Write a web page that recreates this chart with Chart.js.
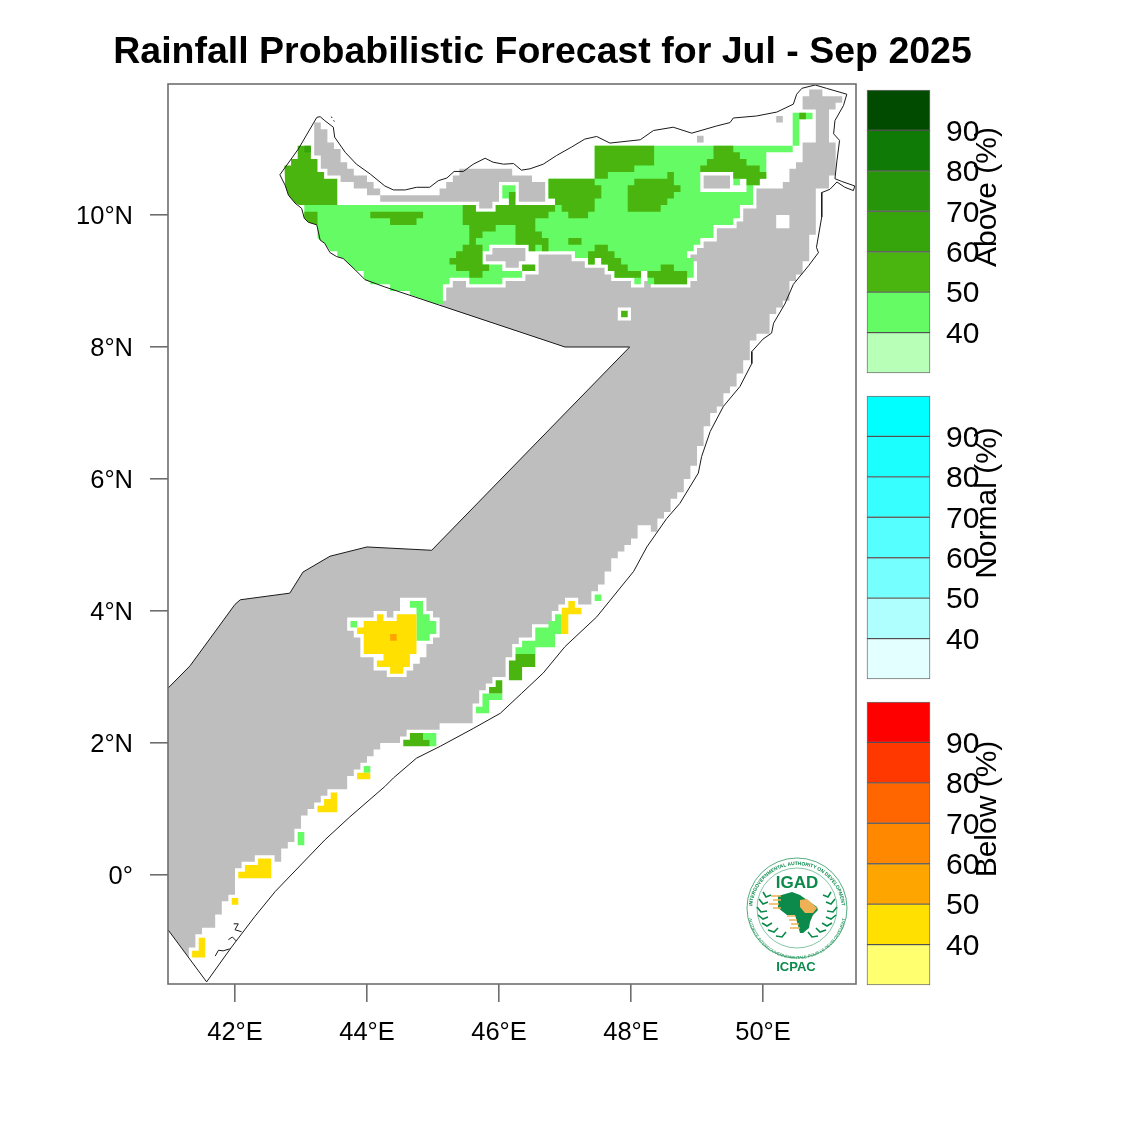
<!DOCTYPE html>
<html>
<head>
<meta charset="utf-8">
<title>Rainfall Probabilistic Forecast for Jul - Sep 2025</title>
<script src="https://cdn.jsdelivr.net/npm/chart.js@4"></script>
<style>
  html, body { margin: 0; background: #fff; }
  #page { position: relative; width: 1125px; height: 1125px; overflow: hidden; }
  canvas, svg { position: absolute; }
</style>
</head>
<body>
<div id="page">
  <canvas id="map" width="1085" height="1125" style="left:0;top:0"></canvas>
  <canvas id="above" width="265" height="303" style="left:860px;top:80px"></canvas>
  <canvas id="normal" width="265" height="303" style="left:860px;top:386px"></canvas>
  <canvas id="below" width="265" height="303" style="left:860px;top:692px"></canvas>
  <svg width="125" height="130" viewBox="0 0 125 130" style="left:735px;top:850px" font-family="Liberation Sans" fill="#0b8a4b">
    <defs>
      <path id="ringTop" d="M 17 60 A 45 45 0 0 1 107 60"/>
      <path id="ringBottom" d="M 13 60 A 49 49 0 0 0 111 60"/>
    </defs>
    <circle cx="62" cy="58" r="50" fill="none" stroke="#0b8a4b" stroke-width="0.7"/>
    <circle cx="62" cy="58" r="40" fill="none" stroke="#0b8a4b" stroke-width="0.5"/>
    <text font-size="4.9" font-weight="bold"><textPath href="#ringTop" startOffset="50%" text-anchor="middle">INTERGOVERNMENTAL AUTHORITY ON DEVELOPMENT</textPath></text>
    <text font-size="4.2"><textPath href="#ringBottom" startOffset="50%" text-anchor="middle">AUTORITE INTERGOUVERNEMENTALE POUR LE DEVELOPPEMENT</textPath></text>
    <text x="62" y="38" font-size="17" font-weight="bold" text-anchor="middle">IGAD</text>
    <text x="61" y="121" font-size="13" font-weight="bold" text-anchor="middle">ICPAC</text>
    <path d="M43 46 L57 42 L65 45 L72 50 L82 57 L83 60 L78 65 L75 72 L74 78 L68 83 L65 83 L62 72 L60 65 L52 65 L43 58 Z"/>
    <path d="M65 50 L72 49 L82 58 L78 63 L70 63 L65 57 Z" fill="#eeb155"/>
    <path d="M36 46H46M38 50H46M34 54H44M38 58H46M52 66H60M54 70H62M56 74H64M55 78H65" stroke="#eeb155" stroke-width="1.5" fill="none"/>
    <path d="M28 42l3 5l5-2M24 49l4 5l5-2M22 57l4 5l6-1M23 65l5 4l5-2M27 73l5 3l5-3M33 80l6 2l4-4M41 86l6 1l4-5
             M96 42l-3 5l-5-2M100 49l-4 5l-5-2M102 57l-4 5l-6-1M101 65l-5 4l-5-2M97 73l-5 3l-5-3M91 80l-6 2l-4-4M83 86l-6 1l-4-5"
          stroke="#0b8a4b" stroke-width="1.6" fill="none"/>
  </svg>
</div>
<script>
// tick positions and labels of the map
const lonTicks = [42, 44, 46, 48, 50];
const lonLabels = ["42°E", "44°E", "46°E", "48°E", "50°E"];
const latTicks = [0, 2, 4, 6, 8, 10];
const latLabels = ["0°", "2°N", "4°N", "6°N", "8°N", "10°N"];

// colour bars
const legendLevels = [30, 40, 50, 60, 70, 80, 90, 100];
const aboveColours = ["#b8ffb8", "#64fb64", "#4ab50e", "#36a50c", "#26950a", "#0f7a06", "#004b00"];
const normalColours = ["#e3ffff", "#b0ffff", "#75ffff", "#55ffff", "#38ffff", "#1cffff", "#00ffff"];
const belowColours = ["#ffff70", "#ffe000", "#ffa500", "#ff8800", "#ff6600", "#ff3800", "#ff0000"];

// grey "no forecast signal" area, lon/lat
const greyBody = [[40.985,2.83],[40.985,-0.83],[41.3,-1.25],[41.3,-1.1],[41.4,-1.1],[41.4,-0.9],[41.5,-0.9],[41.5,-0.8],[41.7,-0.8],[41.7,-0.6],[41.8,-0.6],[41.8,-0.4],[41.9,-0.4],[41.9,-0.3],[42,-0.3],[42,0.1],[42.1,0.1],[42.1,0.2],[42.3,0.2],[42.3,0.3],[42.6,0.3],[42.6,0.2],[42.7,0.2],[42.7,0.4],[42.8,0.4],[42.8,0.5],[42.9,0.5],[42.9,0.7],[43,0.7],[43,0.9],[43.1,0.9],[43.1,1],[43.2,1],[43.2,1.1],[43.3,1.1],[43.3,1.2],[43.4,1.2],[43.4,1.3],[43.7,1.3],[43.7,1.5],[43.8,1.5],[43.8,1.6],[43.9,1.6],[43.9,1.7],[44,1.7],[44,1.8],[44.1,1.8],[44.1,1.9],[44.2,1.9],[44.2,2],[44.5,2],[44.5,2.1],[44.6,2.1],[44.6,2.2],[45.1,2.2],[45.1,2.3],[45.6,2.3],[45.6,2.6],[45.7,2.6],[45.7,2.8],[45.8,2.8],[45.8,2.9],[45.9,2.9],[45.9,3],[46.1,3],[46.1,3.3],[46.2,3.3],[46.2,3.5],[46.3,3.5],[46.3,3.6],[46.5,3.6],[46.5,3.8],[46.8,3.8],[46.8,4],[46.9,4],[46.9,4.1],[47,4.1],[47,4.2],[47.2,4.2],[47.2,4.1],[47.4,4.1],[47.4,4.3],[47.5,4.3],[47.5,4.4],[47.6,4.4],[47.6,4.6],[47.7,4.6],[47.7,4.8],[47.8,4.8],[47.8,4.9],[47.9,4.9],[47.9,5],[48,5],[48,5.1],[48.1,5.1],[48.1,5.3],[48.3,5.3],[48.3,5.2],[48.4,5.2],[48.4,5.4],[48.5,5.4],[48.5,5.5],[48.6,5.5],[48.6,5.7],[48.7,5.7],[48.7,5.8],[48.8,5.8],[48.8,6],[48.9,6],[48.9,6.2],[49,6.2],[49,6.5],[49.1,6.5],[49.1,6.8],[49.2,6.8],[49.2,7],[49.3,7],[49.3,7.1],[49.4,7.1],[49.4,7.3],[49.5,7.3],[49.5,7.4],[49.6,7.4],[49.6,7.6],[49.7,7.6],[49.7,7.8],[49.8,7.8],[49.8,8.1],[49.9,8.1],[49.9,8.2],[50.1,8.2],[50.1,8.5],[50.2,8.5],[50.2,8.6],[50.3,8.6],[50.3,8.7],[50.4,8.7],[50.4,9],[50.5,9],[50.5,9.1],[50.6,9.1],[50.6,9.3],[50.7,9.3],[50.7,9.7],[50.8,9.7],[50.8,10.4],[51,10.4],[51,10.6],[51.1,10.6],[51.1,11.1],[51,11.1],[51,11.6],[51.1,11.6],[51.1,11.7],[51.2,11.7],[51.2,11.8],[50.9,11.8],[50.9,11.9],[50.7,11.9],[50.7,11.8],[50.6,11.8],[50.6,11.6],[50.8,11.6],[50.8,11.1],[50.6,11.1],[50.6,10.8],[50.5,10.8],[50.5,10.7],[50.4,10.7],[50.4,10.5],[50.3,10.5],[50.3,10.4],[49.9,10.4],[49.9,10.1],[49.7,10.1],[49.7,9.9],[49.6,9.9],[49.6,9.8],[49.3,9.8],[49.3,9.6],[49.1,9.6],[49.1,9.5],[49,9.5],[49,9.4],[48.9,9.4],[48.9,9.3],[49,9.3],[49,9],[48.9,9],[48.9,8.9],[48.3,8.9],[48.3,9],[48.2,9],[48.2,8.9],[48,8.9],[48,9],[47.7,9],[47.7,9.1],[47.6,9.1],[47.6,9.2],[47.3,9.2],[47.3,9.3],[47.1,9.3],[47.1,9.4],[46.6,9.4],[46.6,9.1],[46.4,9.1],[46.4,9],[46.1,9],[46.1,8.9],[45.5,8.9],[45.5,9],[45.3,9],[45.3,8.9],[45.2,8.9],[45.2,8.7],[45.1,8.7],[45.1,8.63],[47,8],[47.98,8],[44.98,4.92],[44,4.97],[43.44,4.83],[43.03,4.59],[42.83,4.27],[42.08,4.17],[42,4.1],[41.32,3.17]];
const greyStrip = [[43.2,11.4],[43.3,11.4],[43.3,11.3],[43.4,11.3],[43.4,11.1],[43.5,11.1],[43.5,11],[43.6,11],[43.6,10.8],[43.7,10.8],[43.7,10.7],[43.8,10.7],[43.8,10.6],[44,10.6],[44,10.5],[44.1,10.5],[44.1,10.4],[44.2,10.4],[44.2,10.3],[45.1,10.3],[45.1,10.4],[45.2,10.4],[45.2,10.5],[45.3,10.5],[45.3,10.6],[45.4,10.6],[45.4,10.7],[46.2,10.7],[46.2,10.6],[46.5,10.6],[46.5,10.5],[46.7,10.5],[46.7,10.2],[46.3,10.2],[46.3,10.5],[46,10.5],[46,10.2],[45.9,10.2],[45.9,10.1],[45.7,10.1],[45.7,10.2],[44.2,10.2],[44.2,10.3],[44,10.3],[44,10.4],[43.8,10.4],[43.8,10.5],[43.6,10.5],[43.6,10.6],[43.4,10.6],[43.4,10.7],[43.3,10.7],[43.3,10.9],[43.2,10.9]];
const greySpotA = [[50.2,11.5],[50.3,11.5],[50.3,11.4],[50.2,11.4]];
const greySpotB = [[49,11.2],[49.1,11.2],[49.1,11.1],[49,11.1]];
const greyIslandA = [[45.9,9.5],[46.4,9.5],[46.4,9.3],[46.3,9.3],[46.3,9.2],[46.1,9.2],[46.1,9.3],[45.8,9.3],[45.8,9.4],[45.9,9.4]];
const greyIslandB = [[49.1,10.6],[49.5,10.6],[49.5,10.4],[49.1,10.4]];

// white holes in the grey area
const whiteEast = [[50.2,10],[50.4,10],[50.4,9.8],[50.2,9.8]];
const whiteSpot = [[47.8,8.6],[48,8.6],[48,8.4],[47.8,8.4]];
const whiteCentre = [[43.7,3.9],[44.1,3.9],[44.1,4],[44.3,4],[44.3,3.9],[44.4,3.9],[44.4,4],[44.5,4],[44.5,4.2],[44.9,4.2],[44.9,4],[45,4],[45,3.9],[45.1,3.9],[45.1,3.6],[45,3.6],[45,3.5],[44.9,3.5],[44.9,3.3],[44.8,3.3],[44.8,3.2],[44.7,3.2],[44.7,3.1],[44.6,3.1],[44.6,3],[44.3,3],[44.3,3.1],[44.1,3.1],[44.1,3.3],[43.9,3.3],[43.9,3.6],[43.8,3.6],[43.8,3.7],[43.7,3.7]];
const whiteFrame = [[49.05,10.65],[49.55,10.65],[49.55,10.55],[49.75,10.55],[49.75,10.35],[49.05,10.35]];

// above normal, 40-50 %
const lightNorth = [[43.05,10.15],[43.05,9.95],[43.11,9.89],[43.25,9.85],[43.25,9.65],[43.29,9.62],[43.36,9.57],[43.45,9.45],[43.55,9.45],[43.55,9.37],[43.64,9.34],[43.82,9.17],[43.85,9.15],[43.95,9.15],[43.95,9.05],[43.97,9.02],[44.05,8.98],[44.05,8.95],[44.35,8.95],[44.35,8.85],[44.65,8.85],[44.65,8.79],[45.05,8.65],[45.15,8.65],[45.15,8.95],[45.25,8.95],[45.25,9.05],[45.55,9.05],[45.55,8.95],[46.05,8.95],[46.05,9.05],[46.35,9.05],[46.35,9.15],[46.05,9.15],[46.05,9.25],[45.75,9.25],[45.75,9.45],[45.85,9.45],[45.85,9.55],[46.45,9.55],[46.45,9.45],[47.15,9.45],[47.15,9.35],[47.35,9.35],[47.35,9.25],[47.45,9.25],[47.45,9.35],[47.55,9.35],[47.55,9.25],[47.65,9.25],[47.65,9.15],[47.75,9.15],[47.75,9.05],[48.05,9.05],[48.05,8.95],[48.15,8.95],[48.15,9.15],[48.25,9.15],[48.25,8.95],[48.85,8.95],[48.85,9.05],[48.95,9.05],[48.95,9.35],[48.85,9.35],[48.85,9.45],[48.95,9.45],[48.95,9.55],[49.05,9.55],[49.05,9.65],[49.25,9.65],[49.25,9.85],[49.55,9.85],[49.55,9.95],[49.65,9.95],[49.65,10.15],[49.85,10.15],[49.85,10.45],[49.95,10.45],[49.95,10.55],[50.05,10.55],[50.05,10.95],[50.45,10.95],[50.45,11.55],[50.75,11.55],[50.75,11.45],[50.55,11.45],[50.55,11.05],[47.45,11.05],[47.45,10.55],[46.75,10.55],[46.75,10.25],[46.85,10.25],[46.85,10.15],[45.95,10.15],[45.95,10.05],[45.65,10.05],[45.65,10.15]];
const lightStem = [[46.05,10.45],[46.25,10.45],[46.25,10.25],[46.05,10.25]];
const lightFrameCell = [[49.55,10.55],[49.65,10.55],[49.65,10.45],[49.55,10.45]];
const lightCentre = [[44.65,4.15],[44.85,4.15],[44.85,3.95],[44.95,3.95],[44.95,3.85],[45.05,3.85],[45.05,3.65],[44.95,3.65],[44.95,3.55],[44.75,3.55],[44.75,4.05],[44.65,4.05]];
const lightCentreCell = [[43.75,3.85],[43.85,3.85],[43.85,3.75],[43.75,3.75]];
const lightCoastA = [[46.25,3.45],[46.35,3.45],[46.35,3.55],[46.55,3.55],[46.55,3.75],[46.75,3.75],[46.75,3.85],[46.85,3.85],[46.85,3.95],[46.95,3.95],[46.95,3.65],[46.85,3.65],[46.85,3.45],[46.55,3.45],[46.55,3.35],[46.25,3.35]];
const lightCoastB = [[45.75,2.75],[46.05,2.75],[46.05,2.65],[45.85,2.65],[45.85,2.45],[45.65,2.45],[45.65,2.55],[45.75,2.55]];
const lightCoastC = [[44.85,2.15],[45.05,2.15],[45.05,1.95],[44.95,1.95],[44.95,2.05],[44.85,2.05]];
const lightCoastD = [[47.45,4.25],[47.55,4.25],[47.55,4.15],[47.45,4.15]];
const lightCoastE = [[43.95,1.65],[44.05,1.65],[44.05,1.55],[43.95,1.55]];
const lightCoastF = [[42.95,0.65],[43.05,0.65],[43.05,0.45],[42.95,0.45]];

// above normal, 50-60 %
const darkWest = [[43.05,11.05],[43.15,11.05],[43.15,10.85],[43.25,10.85],[43.25,10.65],[43.35,10.65],[43.35,10.55],[43.55,10.55],[43.55,10.15],[42.97,10.15],[42.91,10.18],[42.81,10.3],[42.76,10.45],[42.75,10.75],[42.85,10.75],[42.85,10.85],[42.95,10.85],[42.95,11.05]];
const darkWestCoast = [[43.05,10.05],[43.25,10.05],[43.25,9.85],[43.11,9.89],[43.05,9.95]];
const darkBand = [[44.05,10.05],[44.85,10.05],[44.85,9.95],[44.75,9.95],[44.75,9.85],[44.35,9.85],[44.35,9.95],[44.05,9.95]];
const darkMiddle = [[45.45,10.15],[45.65,10.15],[45.65,10.05],[45.95,10.05],[45.95,10.15],[46.15,10.15],[46.15,10.35],[46.25,10.35],[46.25,10.15],[46.85,10.15],[46.85,10.05],[46.75,10.05],[46.75,9.95],[46.55,9.95],[46.55,9.75],[46.65,9.75],[46.65,9.65],[46.75,9.65],[46.75,9.45],[46.65,9.45],[46.65,9.55],[46.55,9.55],[46.55,9.45],[46.45,9.45],[46.45,9.55],[46.25,9.55],[46.25,9.85],[45.95,9.85],[45.95,9.75],[45.75,9.75],[45.75,9.65],[45.65,9.65],[45.65,9.55],[45.75,9.55],[45.75,9.25],[45.85,9.25],[45.85,9.15],[45.75,9.15],[45.75,9.05],[45.55,9.05],[45.55,9.15],[45.35,9.15],[45.35,9.25],[45.25,9.25],[45.25,9.35],[45.35,9.35],[45.35,9.45],[45.45,9.45],[45.45,9.55],[45.55,9.55],[45.55,9.85],[45.45,9.85]];
const darkCentreA = [[46.75,10.55],[47.45,10.55],[47.45,10.45],[47.55,10.45],[47.55,10.25],[47.45,10.25],[47.45,10.05],[47.35,10.05],[47.35,9.95],[47.05,9.95],[47.05,10.05],[46.95,10.05],[46.95,10.15],[46.85,10.15],[46.85,10.25],[46.75,10.25]];
const darkTop = [[47.45,11.05],[48.35,11.05],[48.35,10.75],[48.05,10.75],[48.05,10.65],[47.65,10.65],[47.65,10.55],[47.45,10.55]];
const darkCentreB = [[48.05,10.55],[48.55,10.55],[48.55,10.65],[48.65,10.65],[48.65,10.45],[48.75,10.45],[48.75,10.35],[48.65,10.35],[48.65,10.25],[48.55,10.25],[48.55,10.15],[48.45,10.15],[48.45,10.05],[47.95,10.05],[47.95,10.45],[48.05,10.45]];
const darkCell = [[47.05,9.65],[47.25,9.65],[47.25,9.55],[47.05,9.55]];
const darkStair = [[47.45,9.55],[47.65,9.55],[47.65,9.45],[47.75,9.45],[47.75,9.35],[47.85,9.35],[47.85,9.25],[47.95,9.25],[47.95,9.15],[48.15,9.15],[48.15,9.05],[47.75,9.05],[47.75,9.15],[47.65,9.15],[47.65,9.25],[47.55,9.25],[47.55,9.35],[47.45,9.35],[47.45,9.25],[47.35,9.25],[47.35,9.45],[47.45,9.45]];
const darkSouth = [[48.45,9.25],[48.65,9.25],[48.65,9.15],[48.85,9.15],[48.85,8.95],[48.35,8.95],[48.35,9.05],[48.25,9.05],[48.25,9.15],[48.45,9.15]];
const darkNorthEast = [[49.25,11.05],[49.55,11.05],[49.55,10.95],[49.65,10.95],[49.65,10.85],[49.75,10.85],[49.75,10.75],[49.95,10.75],[49.95,10.65],[50.05,10.65],[50.05,10.55],[49.95,10.55],[49.95,10.45],[49.75,10.45],[49.75,10.55],[49.55,10.55],[49.55,10.65],[49.05,10.65],[49.05,10.75],[49.15,10.75],[49.15,10.85],[49.25,10.85]];
const darkHornCell = [[50.55,11.55],[50.65,11.55],[50.65,11.45],[50.55,11.45]];
const darkSpot = [[47.85,8.55],[47.95,8.55],[47.95,8.45],[47.85,8.45]];
const darkIslandCell = [[46.35,9.25],[46.55,9.25],[46.55,9.15],[46.35,9.15]];
const darkCoastA = [[46.25,3.35],[46.55,3.35],[46.55,3.15],[46.35,3.15],[46.35,2.95],[46.15,2.95],[46.15,3.25],[46.25,3.25]];
const darkCoastB = [[45.95,2.95],[46.05,2.95],[46.05,2.75],[45.85,2.75],[45.85,2.85],[45.95,2.85]];
const darkCoastC = [[44.65,2.15],[44.85,2.15],[44.85,2.05],[44.95,2.05],[44.95,1.95],[44.55,1.95],[44.55,2.05],[44.65,2.05]];

// above normal, 60-70 %
const deepWestCell = [[43.05,11.05],[43.15,11.05],[43.15,10.95],[43.05,10.95]];

// below normal, 40-50 %
const yellowCentre = [[43.85,3.75],[43.95,3.75],[43.95,3.85],[44.15,3.85],[44.15,3.95],[44.25,3.95],[44.25,3.85],[44.45,3.85],[44.45,3.95],[44.75,3.95],[44.75,3.35],[44.65,3.35],[44.65,3.15],[44.55,3.15],[44.55,3.05],[44.35,3.05],[44.35,3.15],[44.15,3.15],[44.15,3.25],[44.25,3.25],[44.25,3.35],[43.95,3.35],[43.95,3.65],[43.85,3.65]];
const yellowCoastA = [[47.05,4.15],[47.15,4.15],[47.15,4.05],[47.25,4.05],[47.25,3.95],[47.05,3.95],[47.05,3.65],[46.95,3.65],[46.95,4.05],[47.05,4.05]];
const yellowCoastB = [[43.85,1.55],[44.05,1.55],[44.05,1.45],[43.85,1.45]];
const yellowCoastC = [[43.45,1.25],[43.55,1.25],[43.55,0.95],[43.25,0.95],[43.25,1.05],[43.35,1.05],[43.35,1.15],[43.45,1.15]];
const yellowCoastD = [[42.35,0.25],[42.55,0.25],[42.55,-0.05],[42.05,-0.05],[42.05,0.05],[42.15,0.05],[42.15,0.15],[42.35,0.15]];
const yellowCoastE = [[41.95,-0.35],[42.05,-0.35],[42.05,-0.45],[41.95,-0.45]];
const yellowCoastF = [[41.45,-0.95],[41.55,-0.95],[41.55,-1.25],[41.35,-1.25],[41.35,-1.15],[41.45,-1.15]];

// below normal, 50-60 %
const orangeCell = [[44.35,3.65],[44.45,3.65],[44.45,3.55],[44.35,3.55]];

// country outline
const border = [[40.985,2.83],[41.32,3.17],[42,4.1],[42.08,4.17],[42.83,4.27],[43.03,4.59],[43.44,4.83],[44,4.97],[44.98,4.92],[47.98,8],[47,8],[44.27,8.91],[43.97,9.02],[43.82,9.17],[43.64,9.34],[43.54,9.37],[43.44,9.43],[43.36,9.57],[43.29,9.62],[43.24,9.85],[43.11,9.89],[43.05,9.95],[43.01,10.1],[42.91,10.18],[42.81,10.3],[42.76,10.45],[42.68,10.61],[42.96,11],[43.24,11.48],[43.29,11.49],[43.36,11.43],[43.49,11.33],[43.51,11.18],[43.67,10.95],[43.84,10.77],[44.05,10.62],[44.27,10.44],[44.4,10.38],[44.58,10.38],[44.75,10.42],[44.95,10.42],[45.08,10.52],[45.21,10.56],[45.32,10.66],[45.46,10.66],[45.61,10.77],[45.79,10.86],[45.91,10.8],[46.07,10.77],[46.22,10.78],[46.34,10.68],[46.47,10.7],[46.67,10.77],[46.87,10.9],[47.1,11.03],[47.3,11.15],[47.48,11.19],[47.68,11.09],[48.14,11.14],[48.34,11.28],[48.64,11.33],[48.92,11.24],[49.3,11.35],[49.5,11.4],[49.55,11.47],[49.9,11.5],[50.21,11.56],[50.46,11.68],[50.51,11.83],[50.59,11.92],[50.79,11.97],[50.96,11.92],[51.27,11.83],[51.22,11.66],[51.09,11.43],[51.07,11.23],[51.16,11.13],[51.12,10.82],[51.09,10.55],[51.19,10.51],[51.39,10.44],[51.37,10.37],[51.24,10.42],[51.12,10.5],[51.015,10.39],[50.89,10.34],[50.89,9.97],[50.81,9.51],[50.84,9.43],[50.69,9.23],[50.46,8.95],[50.33,8.65],[50.16,8.36],[50.13,8.21],[50,8.12],[49.83,7.93],[49.83,7.75],[49.65,7.4],[49.4,7.1],[49.2,6.72],[49.07,6.34],[49.02,6.09],[48.74,5.63],[48.54,5.4],[48.24,4.97],[48.04,4.6],[47.91,4.44],[47.48,3.91],[47,3.46],[46.67,3.06],[46.34,2.75],[46.02,2.45],[45.61,2.22],[45.11,1.95],[44.75,1.77],[44.4,1.47],[44.27,1.34],[43.74,0.88],[43.36,0.53],[42.61,-0.25],[42.3,-0.63],[41.95,-1.09],[41.57,-1.62],[40.985,-0.83]];
const islandsA = [[41.7,-1.23],[41.75,-1.14],[41.82,-1.15],[41.92,-1.12]];
const islandsB = [[41.9,-0.98],[41.96,-0.94],[42.02,-1.0]];
const islandsC = [[41.98,-0.74],[42.05,-0.74],[42.0,-0.83],[42.1,-0.86]];
const islandsD = [[43.46,11.49],[43.47,11.47]];
const islandsE = [[43.49,11.43],[43.51,11.42]];

const GREY = "#bebebe";
const WHITE = "#ffffff";
const LIGHT = aboveColours[1];
const DARK = aboveColours[2];
const DEEP = aboveColours[3];
const YELLOW = belowColours[1];
const ORANGE = belowColours[2];

// painted in this order, last one on top
const areas = [
  [greyBody, GREY], [greyStrip, GREY], [greySpotA, GREY], [greySpotB, GREY],
  [whiteEast, WHITE], [whiteSpot, WHITE], [whiteCentre, WHITE],
  [lightNorth, LIGHT], [lightStem, LIGHT], [whiteFrame, WHITE], [lightFrameCell, LIGHT],
  [greyIslandA, GREY], [greyIslandB, GREY],
  [lightCentre, LIGHT], [lightCentreCell, LIGHT], [lightCoastA, LIGHT], [lightCoastB, LIGHT],
  [lightCoastC, LIGHT], [lightCoastD, LIGHT], [lightCoastE, LIGHT], [lightCoastF, LIGHT],
  [darkWest, DARK], [darkWestCoast, DARK], [darkBand, DARK], [darkMiddle, DARK], [darkCentreA, DARK],
  [darkTop, DARK], [darkCentreB, DARK], [darkCell, DARK], [darkStair, DARK], [darkSouth, DARK],
  [darkNorthEast, DARK], [darkHornCell, DARK], [darkSpot, DARK], [darkIslandCell, DARK],
  [darkCoastA, DARK], [darkCoastB, DARK], [darkCoastC, DARK], [deepWestCell, DEEP],
  [yellowCentre, YELLOW], [yellowCoastA, YELLOW], [yellowCoastB, YELLOW], [yellowCoastC, YELLOW],
  [yellowCoastD, YELLOW], [yellowCoastE, YELLOW], [yellowCoastF, YELLOW], [orangeCell, ORANGE]
];
const outlines = [border, islandsA, islandsB, islandsC, islandsD, islandsE];

Chart.defaults.font.family = "'Liberation Sans', Arial, sans-serif";
Chart.defaults.animation = false;

function toPoints(list) {
  return list.map(p => ({x: p[0], y: p[1]}));
}

function createMap() {
  const datasets = [];
  areas.forEach((area, i) => {
    datasets.push({
      data: toPoints(area[0]),
      showLine: true,
      fill: "shape",
      backgroundColor: area[1],
      borderWidth: 0,
      pointRadius: 0,
      order: 1000 - i
    });
  });
  outlines.forEach(line => {
    datasets.push({
      data: toPoints(line),
      showLine: true,
      fill: false,
      borderColor: "#1a1a1a",
      borderWidth: 1,
      pointRadius: 0,
      order: 0
    });
  });

  const axisColour = "#6e6e6e";
  const framePlugin = {
    id: "frame",
    afterDatasetsDraw(chart) {
      const a = chart.chartArea;
      const ctx = chart.ctx;
      ctx.save();
      ctx.strokeStyle = axisColour;
      ctx.lineWidth = 1.6;
      ctx.strokeRect(a.left, a.top, a.right - a.left, a.bottom - a.top);
      ctx.restore();
    }
  };

  return new Chart(document.getElementById("map"), {
    type: "scatter",
    data: {datasets: datasets},
    plugins: [framePlugin],
    options: {
      responsive: false,
      layout: {padding: 0},
      plugins: {
        legend: {display: false},
        tooltip: {enabled: false},
        title: {
          display: true,
          text: "Rainfall Probabilistic Forecast for Jul - Sep 2025",
          color: "#000",
          font: {size: 37.5, weight: "bold"},
          padding: {top: 30, bottom: 9}
        }
      },
      scales: {
        x: {
          type: "linear",
          min: 40.985,
          max: 51.409,
          afterBuildTicks(axis) { axis.ticks = lonTicks.map(v => ({value: v})); },
          afterFit(axis) { axis.height = 141; },
          grid: {drawOnChartArea: false, color: axisColour, lineWidth: 1.6, tickLength: 18},
          border: {display: false},
          ticks: {
            color: "#000",
            font: {size: 25.5},
            padding: 16,
            maxRotation: 0,
            callback: (v, i) => lonLabels[i]
          }
        },
        y: {
          type: "linear",
          min: -1.652,
          max: 11.985,
          afterBuildTicks(axis) { axis.ticks = latTicks.map(v => ({value: v})); },
          afterFit(axis) { axis.width = 168; },
          grid: {drawOnChartArea: false, color: axisColour, lineWidth: 1.6, tickLength: 18},
          border: {display: false},
          ticks: {
            color: "#000",
            font: {size: 25.5},
            padding: 17,
            labelOffset: 2,
            callback: (v, i) => latLabels[i]
          }
        },
        // empty axis, only keeps the plot clear of the colour bars
        spacer: {
          type: "linear",
          position: "right",
          afterFit(axis) { axis.width = 229; },
          grid: {display: false},
          border: {display: false},
          ticks: {display: false}
        }
      }
    }
  });
}

function createColourBar(name, label, colours) {
  const datasets = colours.map((colour, i) => ({
    data: [[legendLevels[i], legendLevels[i + 1]]],
    backgroundColor: colour,
    borderColor: "rgba(0,0,0,0.55)",
    borderWidth: 1,
    borderSkipped: false,
    barPercentage: 1,
    categoryPercentage: 1,
    grouped: false,
    clip: false
  }));

  const titlePlugin = {
    id: "barTitle",
    afterDraw(chart) {
      const ctx = chart.ctx;
      ctx.save();
      ctx.translate(128, chart.chartArea.top + 107);
      ctx.rotate(-Math.PI / 2);
      ctx.fillStyle = "#000";
      ctx.font = "30px 'Liberation Sans', Arial, sans-serif";
      ctx.textAlign = "center";
      ctx.textBaseline = "middle";
      ctx.fillText(label, 0, 0);
      ctx.restore();
    }
  };

  return new Chart(document.getElementById(name), {
    type: "bar",
    data: {labels: [label], datasets: datasets},
    plugins: [titlePlugin],
    options: {
      responsive: false,
      layout: {padding: {left: 7, top: 10, bottom: 10}},
      plugins: {legend: {display: false}, tooltip: {enabled: false}, title: {display: false}},
      scales: {
        x: {display: false},
        y: {
          position: "right",
          min: legendLevels[0],
          max: legendLevels[legendLevels.length - 1],
          afterBuildTicks(axis) { axis.ticks = legendLevels.slice(1, -1).map(v => ({value: v})); },
          afterFit(axis) { axis.width = 195; axis.paddingTop = 0; axis.paddingBottom = 0; },
          grid: {display: false, drawTicks: false},
          border: {display: false},
          ticks: {color: "#000", font: {size: 30}, padding: 16, labelOffset: 2}
        }
      }
    }
  });
}

createMap();
createColourBar("above", "Above (%)", aboveColours);
createColourBar("normal", "Normal (%)", normalColours);
createColourBar("below", "Below (%)", belowColours);
</script>
</body>
</html>
